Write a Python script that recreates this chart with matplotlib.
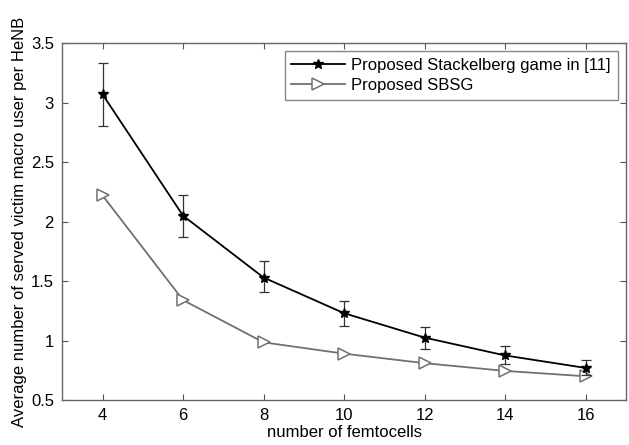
import matplotlib.pyplot as plt
import numpy as np

plt.rcParams['font.family'] = ['Liberation Sans', 'DejaVu Sans']

# data
femtocells = [4, 6, 8, 10, 12, 14, 16]
stackelberg = [3.07, 2.05, 1.53, 1.23, 1.025, 0.875, 0.77]
stack_err_hi = [3.33, 2.22, 1.665, 1.335, 1.11, 0.955, 0.835]
stack_err_lo = [2.80, 1.87, 1.405, 1.12, 0.93, 0.80, 0.71]
sbsg = [2.22, 1.34, 0.985, 0.89, 0.81, 0.745, 0.70]

x_ticks = [4, 6, 8, 10, 12, 14, 16]
y_ticks = [0.5, 1, 1.5, 2, 2.5, 3, 3.5]

fig = plt.figure(figsize=(6.29, 4.45), dpi=100)
ax = fig.add_axes([0.099, 0.101, 0.896, 0.802])

yerr = [np.array(stackelberg) - np.array(stack_err_lo),
        np.array(stack_err_hi) - np.array(stackelberg)]

ax.errorbar(femtocells, stackelberg, yerr=yerr, fmt='none', ecolor='#333333',
            capsize=3.5, elinewidth=0.9, capthick=0.9, zorder=3)
ax.plot(femtocells, stackelberg, color='black', linewidth=1.3, marker='*',
        markersize=7, label='Proposed Stackelberg game in [11]', zorder=4)
ax.plot(femtocells, sbsg, color='#707070', linewidth=1.3, marker='>', markersize=9,
        markerfacecolor='white', markeredgecolor='#707070', markeredgewidth=1.1,
        label='Proposed SBSG', zorder=2)

ax.set_xlim(3, 17)
ax.set_ylim(0.5, 3.5)
ax.set_xticks(x_ticks)
ax.set_yticks(y_ticks)
ax.set_yticklabels(['0.5', '1', '1.5', '2', '2.5', '3', '3.5'])
ax.tick_params(direction='in', top=True, right=True, labelsize=12, length=4,
               color='#555555', pad=6)
for s in ax.spines.values():
    s.set_color('#666666')
    s.set_linewidth(1.0)

ax.set_xlabel('number of femtocells', fontsize=12, labelpad=1)
ax.set_ylabel('Average number of served victim macro user per HeNB', fontsize=12, labelpad=3)

leg = ax.legend(loc='upper right', fontsize=12, frameon=True, fancybox=False,
                edgecolor='#666666', borderpad=0.4, handlelength=3.2,
                handletextpad=0.4, labelspacing=0.3, borderaxespad=0.5)
leg.get_frame().set_linewidth(1.0)

fig.savefig('out.png', dpi=100)
